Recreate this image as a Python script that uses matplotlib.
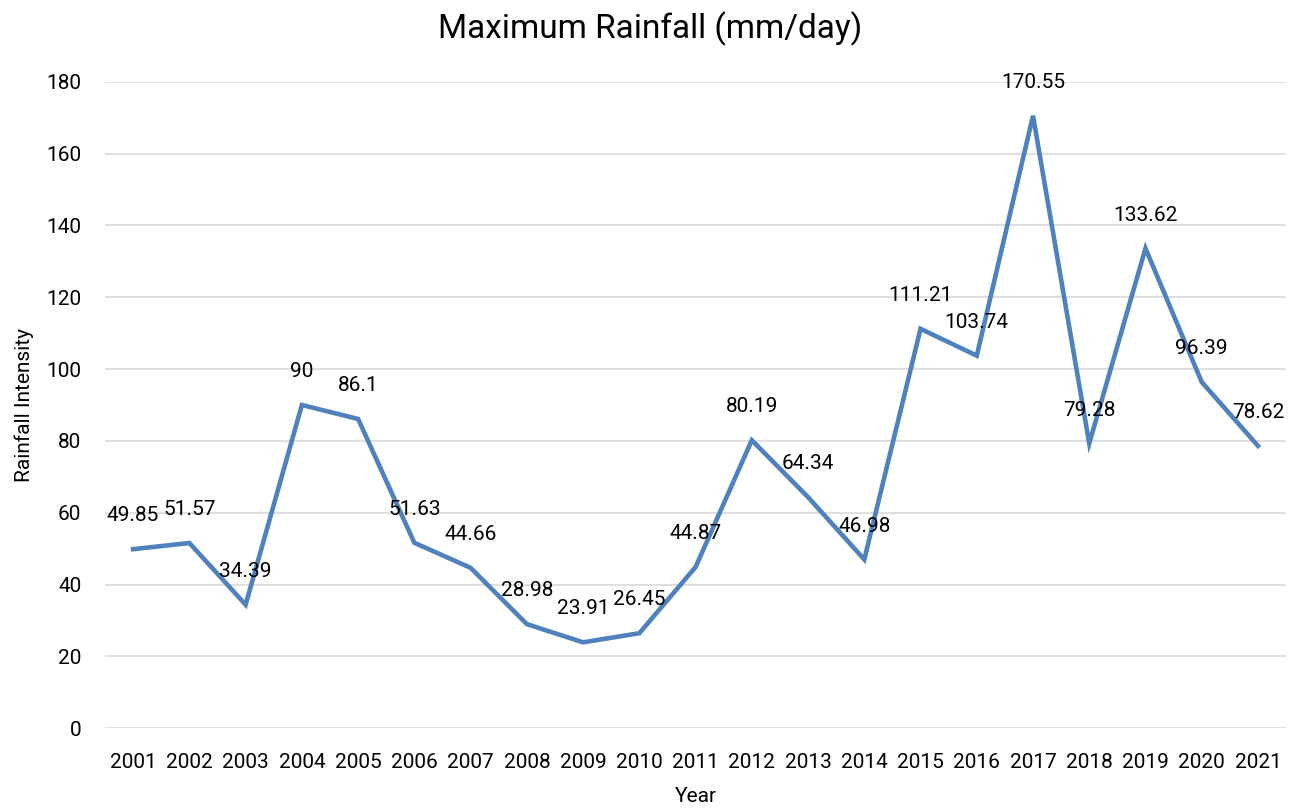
import matplotlib
matplotlib.use("Agg")
import matplotlib.pyplot as plt

# values
years = [str(y) for y in range(2001, 2022)]
rainfall = [49.85, 51.57, 34.39, 90, 86.1, 51.63, 44.66, 28.98, 23.91, 26.45,
            44.87, 80.19, 64.34, 46.98, 111.21, 103.74, 170.55, 79.28, 133.62,
            96.39, 78.62]
labels = ["49.85", "51.57", "34.39", "90", "86.1", "51.63", "44.66", "28.98",
          "23.91", "26.45", "44.87", "80.19", "64.34", "46.98", "111.21",
          "103.74", "170.55", "79.28", "133.62", "96.39", "78.62"]

plt.rcParams['font.family'] = ['Roboto', 'DejaVu Sans']

fig = plt.figure(figsize=(13, 8.1), dpi=100)
ax = fig.add_axes([0.0808, 0.101, 0.9085, 0.798])

x = range(len(years))
ax.plot(x, rainfall, color='#4F81BD', lw=3.3, solid_joinstyle='miter', zorder=3)

for xi, v, s in zip(x, rainfall, labels):
    ax.annotate(s, (xi, v), xytext=(0, 24), textcoords='offset points',
                ha='center', va='center', fontsize=15, color='#000000', zorder=4)

ax.set_xlim(-0.5, len(years) - 0.5)
ax.set_ylim(0, 180)
ax.set_yticks(range(0, 181, 20))
ax.set_xticks(list(x))
ax.set_xticklabels(years)
ax.tick_params(axis='both', length=0, labelsize=15, colors='#000000')
ax.tick_params(axis='x', pad=18)
ax.tick_params(axis='y', pad=17)
ax.grid(axis='y', color='#D9D9D9', lw=1.2)
ax.set_axisbelow(True)
for sp in ax.spines.values():
    sp.set_visible(False)

ax.set_ylabel('Rainfall Intensity', fontsize=15, labelpad=9)
ax.set_xlabel('Year', fontsize=15, labelpad=11)
fig.text(0.5, 0.965, 'Maximum Rainfall (mm/day)', ha='center', va='center', fontsize=24)

fig.savefig('out.png', dpi=100)
